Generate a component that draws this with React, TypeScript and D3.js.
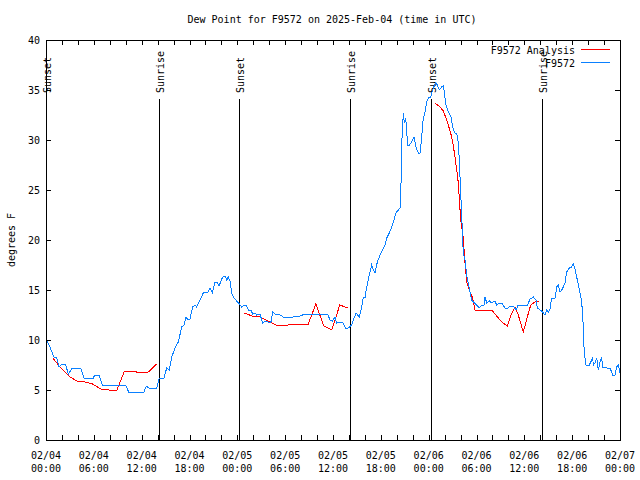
import React from 'react';
import * as d3 from 'd3';

// ── Data (hours after 2025-02-04 00:00 UTC, degrees F) ───────────────────────
const T0 = Date.UTC(2025, 1, 4);
const T1 = Date.UTC(2025, 1, 7);

const observed: [number, number][] = [
  [0.16, 9.9], [0.5, 9.3], [1.0, 8.3], [1.34, 8.2], [1.63, 7.3], [2.04, 7.6], [2.47, 7.5],
  [2.8, 6.6], [3.3, 7.2], [4.35, 7.2], [4.77, 6.2], [5.93, 6.2], [6.11, 6.5], [6.65, 6.5],
  [7.06, 5.5], [10.0, 5.5], [10.41, 4.7], [12.29, 4.8], [12.58, 5.4], [12.92, 5.2],
  [13.89, 5.2], [14.21, 6.2], [14.8, 6.2], [15.14, 7.2], [15.47, 7.0], [15.77, 8.3],
  [16.18, 9.2], [16.6, 9.8], [17.02, 11.3], [17.31, 11.5], [17.56, 12.3], [17.72, 12.1],
  [18.06, 12.1], [18.4, 13.3], [18.69, 13.5], [18.9, 13.3], [19.32, 14.0], [19.73, 14.7],
  [20.36, 14.8], [20.57, 15.2], [20.86, 14.7], [21.2, 15.8], [21.41, 15.8], [21.7, 15.4],
  [22.16, 16.3], [22.45, 16.4], [22.67, 16.0], [22.87, 16.3], [23.08, 15.9], [23.29, 14.7],
  [23.49, 14.3], [23.92, 13.9], [24.25, 13.6], [24.55, 13.3], [24.96, 13.5], [25.18, 13.4],
  [25.38, 13.0], [25.68, 13.0], [25.93, 12.6], [26.22, 12.7], [26.43, 12.5], [26.84, 12.6],
  [27.18, 11.7], [27.47, 11.9], [27.88, 11.8], [28.19, 11.7], [28.44, 12.8], [28.72, 12.6],
  [29.35, 12.5], [29.77, 12.3], [31.02, 12.3], [31.86, 12.4], [32.49, 12.6], [33.12, 12.5],
  [33.74, 12.6], [35.34, 12.6], [35.62, 12.0], [35.91, 11.9], [36.25, 12.3], [36.46, 11.7],
  [36.79, 11.8], [37.29, 11.7], [37.63, 11.1], [37.92, 11.2], [38.35, 11.5], [38.55, 12.0],
  [38.89, 12.7], [39.3, 12.3], [39.6, 13.3], [39.8, 14.3], [40.01, 14.2], [40.23, 15.3],
  [40.55, 16.5], [40.85, 17.5], [41.06, 17.0], [41.27, 16.7], [41.56, 17.8], [41.9, 18.5],
  [42.23, 19.0], [42.52, 19.5], [42.74, 20.2], [43.06, 20.7], [43.36, 21.3], [43.65, 22.0],
  [43.9, 22.7], [44.19, 23.0], [44.49, 23.3], [44.53, 25.7], [44.66, 30.3], [44.82, 32.7],
  [44.94, 31.7], [45.12, 32.2], [45.37, 29.5], [45.57, 29.5], [45.87, 29.8], [46.16, 30.3],
  [46.41, 29.3], [46.7, 28.7], [46.91, 28.7], [47.13, 30.2], [47.25, 31.8], [47.54, 32.8],
  [47.75, 33.8], [47.95, 34.2], [48.25, 34.3], [48.58, 35.2], [48.88, 35.7], [49.08, 35.5],
  [49.33, 35.0], [49.63, 35.3], [49.84, 35.4], [49.96, 34.8], [50.17, 33.5], [50.46, 32.8],
  [50.8, 32.3], [51.09, 31.0], [51.3, 30.7], [51.52, 30.7], [51.72, 29.7], [51.84, 28.0],
  [52.22, 21.0], [52.34, 18.7], [52.56, 18.0], [52.85, 16.0], [52.97, 15.7], [53.18, 14.8],
  [53.4, 14.0], [53.6, 13.8], [54.02, 13.5], [54.35, 13.2], [54.65, 13.5], [54.94, 13.5],
  [55.07, 14.3], [55.28, 13.7], [55.61, 13.9], [55.91, 13.7], [56.32, 13.9], [56.53, 13.5],
  [56.86, 13.7], [57.16, 13.7], [57.58, 13.2], [57.86, 13.1], [58.2, 13.4], [58.62, 13.4],
  [58.96, 13.0], [59.24, 13.5], [60.42, 13.5], [60.71, 14.1], [61.13, 14.3], [61.46, 14.0],
  [61.63, 13.2], [61.97, 13.0], [62.3, 12.8], [62.59, 12.5], [62.8, 13.0], [63.01, 12.8],
  [63.22, 13.1], [63.43, 14.2], [63.85, 14.2], [64.06, 15.3], [64.26, 15.5], [64.47, 14.8],
  [64.69, 15.0], [64.89, 15.3], [65.1, 15.7], [65.31, 16.8], [65.64, 17.2], [65.94, 17.3],
  [66.14, 17.6], [66.36, 17.1], [66.57, 16.3], [66.9, 15.0], [67.2, 13.8], [67.4, 11.3],
  [67.49, 9.2], [67.61, 8.2], [67.74, 7.5], [68.15, 7.5], [68.33, 7.8], [68.58, 8.2],
  [68.65, 7.5], [68.86, 7.7], [69.08, 8.2], [69.28, 7.0], [69.49, 7.8], [69.7, 8.2],
  [69.83, 7.3], [70.12, 7.3], [70.33, 7.2], [70.75, 7.2], [71.08, 6.5], [71.37, 6.5],
  [71.58, 7.3], [71.79, 7.5], [72.0, 6.7],
];

const analysisDay1: [number, number][] = [
  [0.85, 8.2], [1.85, 7.2], [2.85, 6.4], [3.85, 5.9], [4.85, 5.8], [5.85, 5.6], [6.85, 5.1],
  [7.85, 5.0], [8.85, 4.9], [9.85, 6.9], [10.85, 6.9], [11.85, 6.7], [12.85, 6.8], [13.85, 7.6],
];

const analysisDay2: [number, number][] = [
  [24.85, 12.7], [25.85, 12.4], [26.85, 12.3], [27.85, 11.9], [28.85, 11.5], [29.85, 11.4],
  [30.85, 11.6], [31.85, 11.6], [32.85, 11.5], [33.85, 13.6], [34.85, 11.4], [35.85, 11.0],
  [36.85, 13.5], [37.85, 13.2],
];

const analysisDay3: [number, number][] = [
  [48.79, 33.7], [49.42, 33.3], [49.84, 32.9], [50.17, 32.2], [50.46, 31.5], [50.76, 30.7],
  [51.02, 29.8], [51.3, 28.3], [51.52, 27.0], [51.72, 25.7], [51.84, 24.2], [52.02, 22.0],
  [52.34, 20.2], [52.56, 17.7], [52.77, 15.8], [53.18, 14.8], [53.52, 14.2], [53.81, 13.0],
  [55.91, 13.0], [56.53, 12.4], [57.16, 11.8], [57.86, 11.4], [58.29, 12.4], [58.83, 13.3],
  [59.24, 12.5], [59.87, 10.8], [60.37, 12.3], [60.8, 13.5], [61.34, 13.8], [61.88, 13.9],
];

const sunEvents: [number, string][] = [
  [0.05, 'Sunset'], [14.2, 'Sunrise'], [24.25, 'Sunset'],
  [38.15, 'Sunrise'], [48.3, 'Sunset'], [62.25, 'Sunrise'],
];

const yTicks = [0, 5, 10, 15, 20, 25, 30, 35, 40];

// ── Layout ──────────────────────────────────────────────────────────────────
const W = 640;
const H = 480;
const PLOT = { left: 46, right: 620, top: 40, bottom: 440 };
const FONT = '"DejaVu Sans Mono", "Liberation Mono", monospace';
const RED = '#ff0000';
const BLUE = '#0a80ff';

const hr = (h: number) => new Date(T0 + h * 3600e3);

export default function App() {
  const x = d3.scaleTime().domain([new Date(T0), new Date(T1)]).range([PLOT.left, PLOT.right]);
  const y = d3.scaleLinear().domain([0, 40]).range([PLOT.bottom, PLOT.top]);

  const line = d3
    .line<[number, number]>()
    .x((d) => x(hr(d[0])))
    .y((d) => y(d[1]));

  const minorTicks = x.ticks(d3.utcHour.every(2)!);
  const majorTicks = x.ticks(d3.utcHour.every(6)!);
  const fmtDay = d3.utcFormat('%m/%d');
  const fmtTime = d3.utcFormat('%H:%M');

  const px = (v: number) => Math.round(v) + 0.5;

  return (
    <div style={{ position: 'absolute', left: 0, top: 0 }}>
      <svg width={W} height={H} style={{ display: 'block', background: '#fff' }} fontFamily={FONT} fontSize={10}>
        {/* title */}
        <text x={332} y={23} textAnchor="middle" fill="#000">
          Dew Point for F9572 on 2025-Feb-04 (time in UTC)
        </text>

        {/* y label */}
        <text transform={`translate(15,${(PLOT.top + PLOT.bottom) / 2}) rotate(-90)`} textAnchor="middle" fill="#000">
          degrees F
        </text>

        {/* ticks: y on both sides, x on top and bottom */}
        <g shapeRendering="crispEdges" stroke="#000">
          {yTicks.map((t) => (
            <g key={t}>
              <line x1={PLOT.left} x2={PLOT.left + 5} y1={px(y(t))} y2={px(y(t))} />
              <line x1={PLOT.right - 5} x2={PLOT.right} y1={px(y(t))} y2={px(y(t))} />
            </g>
          ))}
          {minorTicks.map((t) => (
            <g key={+t}>
              <line x1={px(x(t))} x2={px(x(t))} y1={PLOT.bottom} y2={PLOT.bottom - 5} />
              <line x1={px(x(t))} x2={px(x(t))} y1={PLOT.top} y2={PLOT.top + 5} />
            </g>
          ))}
        </g>
        {yTicks.map((t) => (
          <text key={t} x={40} y={y(t) + 4} textAnchor="end" fill="#000">
            {t}
          </text>
        ))}
        {majorTicks.map((t) => (
          <g key={+t}>
            <text x={x(t)} y={459} textAnchor="middle" fill="#000">
              {fmtDay(t)}
            </text>
            <text x={x(t)} y={472} textAnchor="middle" fill="#000">
              {fmtTime(t)}
            </text>
          </g>
        ))}

        {/* sunrise / sunset markers */}
        {sunEvents.map(([h, label]) => {
          const sx = px(x(hr(h)));
          return (
            <g key={h}>
              <line x1={sx} x2={sx} y1={99} y2={PLOT.bottom} stroke="#000" shapeRendering="crispEdges" />
              <text transform={`translate(${sx + 4},93) rotate(-90)`} textAnchor="start" fill="#000">
                {label}
              </text>
            </g>
          );
        })}

        {/* series */}
        {[analysisDay1, analysisDay2, analysisDay3].map((seg, i) => (
          <path key={i} d={line(seg) ?? ''} fill="none" stroke={RED} strokeWidth={1} shapeRendering="crispEdges" />
        ))}
        <path d={line(observed) ?? ''} fill="none" stroke={BLUE} strokeWidth={1} shapeRendering="crispEdges" />

        {/* legend */}
        <text x={575} y={54} textAnchor="end" fill="#000">F9572 Analysis</text>
        <line x1={581} x2={610} y1={49.5} y2={49.5} stroke={RED} shapeRendering="crispEdges" />
        <text x={575} y={67} textAnchor="end" fill="#000">F9572</text>
        <line x1={581} x2={610} y1={62.5} y2={62.5} stroke={BLUE} shapeRendering="crispEdges" />

        {/* border */}
        <rect
          x={PLOT.left + 0.5}
          y={PLOT.top + 0.5}
          width={PLOT.right - PLOT.left}
          height={PLOT.bottom - PLOT.top}
          fill="none"
          stroke="#000"
          shapeRendering="crispEdges"
        />
      </svg>
    </div>
  );
}
